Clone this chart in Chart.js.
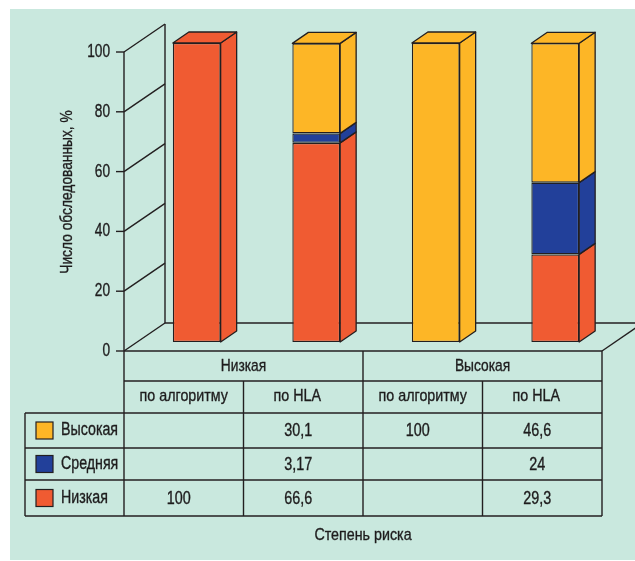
<!DOCTYPE html>
<html>
<head>
<meta charset="utf-8">
<script src="https://cdn.jsdelivr.net/npm/chart.js@4.4.1/dist/chart.umd.min.js"></script>
<style>
  html, body { margin: 0; padding: 0; background: #fff; }
  canvas { display: block; }
</style>
</head>
<body>
<canvas id="riskChart" width="635" height="561"></canvas>
<script>
// data
const groups = ["Низкая", "Высокая"];
const categories = ["по алгоритму", "по HLA", "по алгоритму", "по HLA"];
const seriesNames = ["Высокая", "Средняя", "Низкая"];
const highRisk = [null, 30.1, 100, 46.6];
const midRisk = [null, 3.17, null, 24];
const lowRisk = [100, 66.6, null, 29.3];
const yTicks = [0, 20, 40, 60, 80, 100];

const colors = { high: "#fdb626", mid: "#22409a", low: "#f05b32" };
const ink = "#231f20";
const FONT = "'Liberation Sans', Arial, sans-serif";

// 3d offsets
const wall = { dx: 41, dy: -28 };
const shift = { dx: 13, dy: -9 };
const depth = { dx: 16, dy: -11 };

function line(ctx, x1, y1, x2, y2) {
    ctx.beginPath();
    ctx.moveTo(x1, y1);
    ctx.lineTo(x2, y2);
    ctx.stroke();
}

function poly(ctx, pts, fill) {
    ctx.beginPath();
    ctx.moveTo(pts[0][0], pts[0][1]);
    for (let i = 1; i < pts.length; i++) ctx.lineTo(pts[i][0], pts[i][1]);
    ctx.closePath();
    ctx.fillStyle = fill;
    ctx.fill();
    ctx.stroke();
}

// condensed look: squeeze a normal face horizontally
function label(ctx, s, x, y, align, size, sx, angle) {
    ctx.save();
    ctx.translate(x, y);
    if (angle) ctx.rotate(angle);
    ctx.scale(sx, 1);
    ctx.font = size + "px " + FONT;
    ctx.fillStyle = "#1e1c1d";
    ctx.strokeStyle = "#1e1c1d";
    ctx.lineWidth = 0.35;
    ctx.textAlign = align;
    ctx.textBaseline = "middle";
    ctx.fillText(s, 0, 0);
    ctx.strokeText(s, 0, 0);
    ctx.restore();
}

const frame3d = {
    id: "frame3d",
    beforeDraw(chart) {
        const { ctx, chartArea: a } = chart;
        const y = chart.scales.y;
        ctx.save();
        ctx.fillStyle = "#c9e8de";
        ctx.fillRect(10, 9, chart.width - 10, chart.height - 10);

        ctx.strokeStyle = ink;
        ctx.lineWidth = 1.4;
        const top = y.getPixelForValue(100);
        // back wall and floor
        line(ctx, a.left + wall.dx, top + wall.dy, a.left + wall.dx, a.bottom + wall.dy);
        line(ctx, a.left + wall.dx, a.bottom + wall.dy, chart.width, a.bottom + wall.dy);
        line(ctx, a.right, a.bottom, a.right + wall.dx, a.bottom + wall.dy);
        line(ctx, a.left, top, a.left, a.bottom);

        yTicks.forEach(v => {
            const py = y.getPixelForValue(v);
            ctx.strokeStyle = ink;
            ctx.lineWidth = 1.4;
            line(ctx, a.left, py, a.left + wall.dx, py + wall.dy);
            line(ctx, a.left - 8, py, a.left, py);
            label(ctx, String(v), a.left - 14, py, "right", 18, 0.76);
        });

        label(ctx, "Число обследованных, %", 67, 192, "center", 17, 0.81, -Math.PI / 2);
        ctx.restore();
    },
    beforeDatasetsDraw(chart) {
        chart.ctx.save();
        chart.ctx.translate(shift.dx, shift.dy);
    },
    afterDatasetsDraw(chart) {
        const ctx = chart.ctx;
        const sets = chart.data.datasets;
        // topmost segment of each stack gets a lid
        const topIdx = categories.map((c, i) => {
            let t = -1;
            sets.forEach((ds, di) => { if (ds.data[i] != null) t = di; });
            return t;
        });
        ctx.strokeStyle = ink;
        ctx.lineWidth = 1.3;
        ctx.lineJoin = "round";
        sets.forEach((ds, di) => {
            chart.getDatasetMeta(di).data.forEach((el, i) => {
                if (ds.data[i] == null) return;
                const l = el.x - el.width / 2, r = el.x + el.width / 2;
                poly(ctx, [[r, el.y], [r + depth.dx, el.y + depth.dy],
                    [r + depth.dx, el.base + depth.dy], [r, el.base]], ds.backgroundColor);
                if (topIdx[i] === di) {
                    poly(ctx, [[l, el.y], [r, el.y], [r + depth.dx, el.y + depth.dy],
                        [l + depth.dx, el.y + depth.dy]], ds.backgroundColor);
                }
            });
        });
        ctx.restore();
    },
    afterDraw(chart) {
        const { ctx, chartArea: a } = chart;
        const x = chart.scales.x;
        const w = (a.right - a.left) / categories.length;
        const rows = [a.bottom, a.bottom + 30, a.bottom + 62, a.bottom + 97, a.bottom + 129, a.bottom + 165];
        const tableLeft = 25;
        ctx.save();
        ctx.strokeStyle = ink;
        ctx.lineWidth = 1.4;
        line(ctx, a.left, rows[0], a.right, rows[0]);
        line(ctx, a.left, rows[1], a.right, rows[1]);
        for (let r = 2; r < rows.length; r++) line(ctx, tableLeft, rows[r], a.right, rows[r]);
        line(ctx, a.left, rows[0], a.left, rows[5]);
        line(ctx, a.right, rows[0], a.right, rows[5]);
        line(ctx, a.left + 2 * w, rows[0], a.left + 2 * w, rows[5]);
        line(ctx, a.left + w, rows[1], a.left + w, rows[5]);
        line(ctx, a.left + 3 * w, rows[1], a.left + 3 * w, rows[5]);
        line(ctx, tableLeft, rows[2], tableLeft, rows[5]);

        groups.forEach((g, gi) => {
            label(ctx, g, a.left + (2 * gi + 1) * w, (rows[0] + rows[1]) / 2, "center", 17, 0.81);
        });
        categories.forEach((c, i) => {
            const nudge = i % 2 ? -6 : 0;
            label(ctx, c, x.getPixelForValue(i) + nudge, (rows[1] + rows[2]) / 2 - 1, "center", 17, 0.84);
        });

        const series = [highRisk, midRisk, lowRisk];
        const fills = [colors.high, colors.mid, colors.low];
        series.forEach((vals, r) => {
            const cy = (rows[r + 2] + rows[r + 3]) / 2;
            ctx.fillStyle = fills[r];
            ctx.strokeStyle = ink;
            ctx.lineWidth = 1.2;
            ctx.fillRect(36, cy - 8.5, 17, 17);
            ctx.strokeRect(36, cy - 8.5, 17, 17);
            label(ctx, seriesNames[r], 61, cy, "left", 18, 0.79);
            vals.forEach((v, i) => {
                if (v == null) return;
                label(ctx, String(v).replace(".", ","), x.getPixelForValue(i) - 5, cy + 1, "center", 17.5, 0.82);
            });
        });

        label(ctx, "Степень риска", (a.left + a.right) / 2, rows[5] + 19, "center", 17, 0.84);
        ctx.restore();
    }
};

function makeSet(name, data, color) {
    return {
        label: name,
        data: data,
        backgroundColor: color,
        borderColor: ink,
        borderWidth: 1.3,
        borderSkipped: false,
        categoryPercentage: 1,
        barPercentage: 0.4,
        clip: false
    };
}

new Chart(document.getElementById("riskChart"), {
    type: "bar",
    data: {
        labels: categories,
        datasets: [
            makeSet(seriesNames[2], lowRisk, colors.low),
            makeSet(seriesNames[1], midRisk, colors.mid),
            makeSet(seriesNames[0], highRisk, colors.high)
        ]
    },
    options: {
        responsive: false,
        animation: false,
        layout: { padding: { left: 124, right: 33, top: 52, bottom: 210 } },
        plugins: { legend: { display: false }, tooltip: { enabled: false } },
        scales: {
            x: { stacked: true, display: false },
            y: { stacked: true, display: false, min: 0, max: 100 }
        }
    },
    plugins: [frame3d]
});
</script>
</body>
</html>
